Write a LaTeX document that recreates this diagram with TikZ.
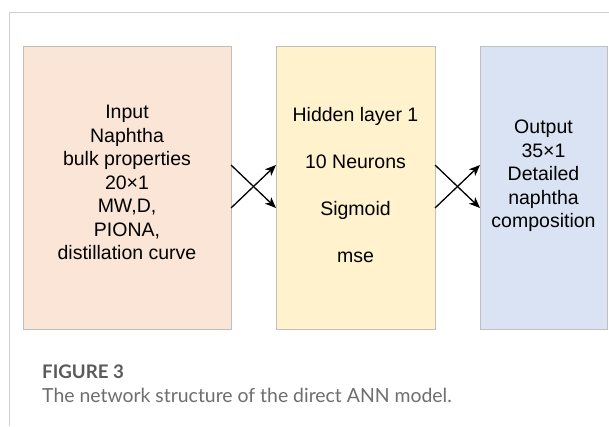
\documentclass[tikz,border=0pt]{standalone}
\usepackage{fontspec}
\setmainfont{Liberation Sans}
\newfontfamily\capfont{Lato}
\usetikzlibrary{arrows.meta,shadows}
\definecolor{inpfill}{HTML}{FBE5D6}
\definecolor{hidfill}{HTML}{FFF2CC}
\definecolor{outfill}{HTML}{DAE3F3}
\definecolor{boxline}{HTML}{BFBFBF}
\definecolor{frameline}{HTML}{CFCFCF}
\definecolor{capgray}{HTML}{6E6E6E}
\definecolor{capdark}{HTML}{5A5A5A}
\begin{document}
\begin{tikzpicture}[x=1pt,y=-1pt,
  layerbox/.style={draw=boxline,line width=0.9pt,inner sep=0pt,outer sep=0pt,
    drop shadow={shadow xshift=0.8pt,shadow yshift=-1.2pt,fill=blue!40!gray,opacity=0.18}},
  boxtext/.style={align=center,inner sep=0pt,font=\fontsize{19.5}{23.5}\selectfont},
  conn/.style={line width=1.3pt,-{Stealth[length=11pt,width=9pt,inset=3pt]}},
  captitle/.style={anchor=base west,inner sep=0pt,text=capdark,font=\capfont\bfseries\fontsize{18.7}{20}\selectfont},
  captext/.style={anchor=base west,inner sep=0pt,text=capgray,font=\capfont\fontsize{19.4}{20}\selectfont}]
\useasboundingbox (0,0) rectangle (609,426);
\fill[white] (0,0) rectangle (609,426);
% frame
\draw[frameline,line width=1pt] (9.5,426) -- (9.5,12.5) -- (609,12.5);
% boxes
\node[layerbox,fill=inpfill,minimum width=208pt,minimum height=283pt] (b1) at (127,187.5) {};
\node[layerbox,fill=hidfill,minimum width=159pt,minimum height=283pt] (b2) at (355.5,187.5) {};
\node[layerbox,fill=outfill,minimum width=127pt,minimum height=283pt] (b3) at (543.5,187.5) {};
% texts
\node[boxtext] (t1) at (127,182.5) {Input\\Naphtha\\bulk properties\\20×1\\MW,D,\\PIONA,\\distillation curve};
\node[boxtext] (t2) at (355.5,185) {Hidden layer 1\\[23.5pt]10 Neurons\\[23.5pt]Sigmoid\\[23.5pt]mse};
\node[boxtext] (t3) at (543.5,176) {Output\\35×1\\Detailed\\naphtha\\composition};
% connectors
\coordinate (ru) at (0,165);
\coordinate (rd) at (0,208);
\draw[conn] (b1.east |- ru) -- (b2.west |- rd);
\draw[conn] (b1.east |- rd) -- (b2.west |- ru);
\draw[conn] (b2.east |- ru) -- (b3.west |- rd);
\draw[conn] (b2.east |- rd) -- (b3.west |- ru);
% caption
\node[captitle] (c1) at (42,378) {FIGURE 3};
\node[captext] (c2) at (42,402) {The network structure of the direct ANN model.};
\end{tikzpicture}
\end{document}
